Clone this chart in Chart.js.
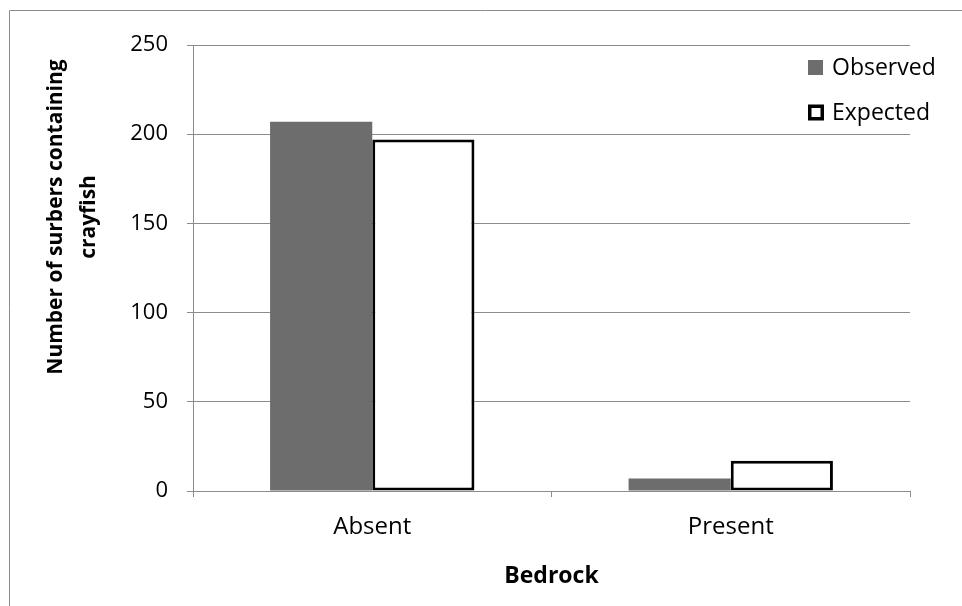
<!DOCTYPE html>
<html>
<head>
<meta charset="utf-8">
<script src="https://cdn.jsdelivr.net/npm/chart.js@4"></script>
<style>
  html, body { margin: 0; padding: 0; background: #fff; }
  #wrap { width: 962px; height: 606px; }
</style>
</head>
<body>
<div id="wrap"><canvas id="chart" width="962" height="606"></canvas></div>
<script>
// data
var categories = ['Absent', 'Present'];
var observed = [207, 7];
var expected = [197, 17];
var yTicks = [0, 50, 100, 150, 200, 250];
var yTitle = ['Number of surbers containing', 'crayfish'];

var fontFamily = "'Open Sans', 'Noto Sans', sans-serif";

// frame (left + top edges), y title and legend inside the plot
var framePlugin = {
  id: 'frame',
  afterDraw: function (chart) {
    var ctx = chart.ctx;
    ctx.save();
    ctx.strokeStyle = '#8c8c8c';
    ctx.lineWidth = 1;
    ctx.beginPath();
    ctx.moveTo(9.5, 606);
    ctx.lineTo(9.5, 10.5);
    ctx.lineTo(962, 10.5);
    ctx.stroke();

    // y axis title, two lines, rotated
    ctx.save();
    ctx.translate(0, 217);
    ctx.rotate(-Math.PI / 2);
    ctx.fillStyle = '#000';
    ctx.font = 'bold 21px ' + fontFamily;
    ctx.textAlign = 'center';
    ctx.textBaseline = 'middle';
    ctx.fillText(yTitle[0], 0, 56);
    ctx.fillText(yTitle[1], 0, 89);
    ctx.restore();

    // legend
    var items = chart.data.datasets;
    var x = 808;
    var ys = [67.5, 112.5];
    ctx.font = '23px ' + fontFamily;
    ctx.textBaseline = 'middle';
    ctx.textAlign = 'left';
    items.forEach(function (ds, i) {
      var y = ys[i];
      if (ds.borderWidth > 0) {
        ctx.fillStyle = '#fff';
        ctx.fillRect(x, y - 8, 16, 16);
        ctx.strokeStyle = '#000';
        ctx.lineWidth = 3.5;
        ctx.strokeRect(x + 1.75, y - 6.25, 12.5, 12.5);
      } else {
        ctx.fillStyle = ds.backgroundColor;
        ctx.fillRect(x, y - 7.5, 15, 15);
      }
      ctx.fillStyle = '#000';
      ctx.fillText(ds.label, x + 24, y + 1);
    });
    ctx.restore();
  }
};

new Chart(document.getElementById('chart'), {
  type: 'bar',
  data: {
    labels: categories,
    datasets: [
      {
        label: 'Observed',
        data: observed,
        backgroundColor: '#6d6d6d',
        borderWidth: 0
      },
      {
        label: 'Expected',
        data: expected,
        backgroundColor: '#ffffff',
        borderColor: '#000000',
        borderWidth: 3,
        borderSkipped: false
      }
    ]
  },
  options: {
    responsive: false,
    animation: false,
    categoryPercentage: 0.57,
    barPercentage: 1.0,
    layout: { padding: { top: 45, right: 52, left: 0, bottom: 0 } },
    plugins: {
      legend: { display: false },
      tooltip: { enabled: false }
    },
    scales: {
      x: {
        grid: {
          offset: true,
          drawOnChartArea: false,
          color: '#8c8c8c',
          tickLength: 6
        },
        border: { color: '#8c8c8c' },
        ticks: {
          color: '#000',
          padding: 16,
          font: { family: fontFamily, size: 24 }
        },
        title: {
          display: true,
          text: 'Bedrock',
          color: '#000',
          padding: { top: 0, bottom: 16 },
          font: { family: fontFamily, size: 23, weight: 'bold' }
        },
        afterFit: function (scale) { scale.height = 115; }
      },
      y: {
        min: 0,
        max: 250,
        afterBuildTicks: function (scale) {
          scale.ticks = yTicks.map(function (v) { return { value: v }; });
        },
        grid: {
          color: '#8c8c8c',
          tickLength: 6
        },
        border: { color: '#8c8c8c' },
        ticks: {
          color: '#000',
          padding: 19,
          font: { family: fontFamily, size: 22 }
        },
        afterFit: function (scale) { scale.width = 193; }
      }
    }
  },
  plugins: [framePlugin]
});
</script>
</body>
</html>
